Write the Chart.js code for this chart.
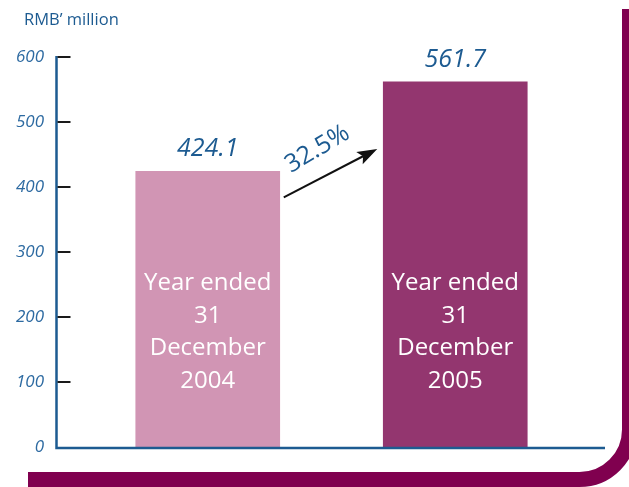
<!DOCTYPE html>
<html>
<head>
<meta charset="utf-8">
<script src="https://cdn.jsdelivr.net/npm/chart.js@4.4.0/dist/chart.umd.min.js"></script>
<style>
  html, body { margin: 0; padding: 0; background: #ffffff; }
  canvas { display: block; }
</style>
</head>
<body>
<canvas id="c" width="629" height="487"></canvas>
<script>
// ---- data ----
const categories = ["Year ended\n31\nDecember\n2004", "Year ended\n31\nDecember\n2005"];
const revenue = [424.1, 561.7];
const valueLabels = ["424.1", "561.7"];
const growthLabel = "32.5%";
const unitLabel = "RMB\u2019 million";
const yTicks = [0, 100, 200, 300, 400, 500, 600];

const BLUE = "#1d5b91";
const TICK_BLUE = "#2d6aa1";
const FRAME = "#80004f";
const FONT = "'Open Sans', 'Noto Sans', sans-serif";

const decorPlugin = {
  id: "decor",
  beforeDraw(chart) {
    const ctx = chart.ctx;
    ctx.save();
    ctx.fillStyle = "#ffffff";
    ctx.fillRect(0, 0, chart.width, chart.height);
    // frame (right + bottom with rounded corner)
    ctx.strokeStyle = FRAME;
    ctx.lineWidth = 15;
    ctx.lineCap = "butt";
    ctx.beginPath();
    const cx = 629.5, by = 479.5, r = 50;
    ctx.moveTo(cx, 9);
    ctx.lineTo(cx, by - r);
    ctx.arcTo(cx, by, cx - r, by, r);
    ctx.lineTo(28, by);
    ctx.stroke();
    ctx.restore();
  },
  afterDatasetsDraw(chart) {
    const ctx = chart.ctx;
    const area = chart.chartArea;
    const ys = chart.scales.y;
    const meta = chart.getDatasetMeta(0);
    const axisX = area.left - 27.5;
    ctx.save();
    // axis lines
    ctx.strokeStyle = BLUE;
    ctx.lineWidth = 2.5;
    ctx.beginPath();
    ctx.moveTo(axisX, ys.getPixelForValue(600) - 1);
    ctx.lineTo(axisX, area.bottom + 1);
    ctx.lineTo(area.right + 26, area.bottom + 1);
    ctx.stroke();
    // tick marks (inside)
    ctx.strokeStyle = "#1a1a1a";
    ctx.lineWidth = 2;
    yTicks.forEach(v => {
      if (v === 0) return;
      const py = Math.round(ys.getPixelForValue(v));
      ctx.beginPath();
      ctx.moveTo(axisX + 1, py);
      ctx.lineTo(axisX + 14, py);
      ctx.stroke();
    });
    // unit label
    ctx.fillStyle = BLUE;
    ctx.font = "16.5px " + FONT;
    ctx.textAlign = "left";
    ctx.textBaseline = "middle";
    ctx.fillText(unitLabel, 24, 20);
    // values above bars and text inside bars
    meta.data.forEach((bar, i) => {
      ctx.fillStyle = BLUE;
      ctx.font = "italic 25px " + FONT;
      ctx.textAlign = "center";
      ctx.textBaseline = "middle";
      ctx.fillText(valueLabels[i], bar.x, bar.y - 22);
      ctx.fillStyle = "#ffffff";
      ctx.font = "24px " + FONT;
      const lines = categories[i].split("\n");
      const mid = area.bottom - 115;
      const lh = 32.5;
      lines.forEach((ln, k) => {
        ctx.fillText(ln, bar.x, mid + (k - (lines.length - 1) / 2) * lh);
      });
    });
    // growth arrow
    const b0 = meta.data[0], b1 = meta.data[1];
    const x0 = b0.x + b0.width / 2 + 4, y0 = b0.y + 26;
    const x1 = b1.x - b1.width / 2 - 6, y1 = b1.y + 67;
    const ang = Math.atan2(y1 - y0, x1 - x0);
    ctx.strokeStyle = "#111111";
    ctx.fillStyle = "#111111";
    ctx.lineWidth = 2;
    const hl = 20, hw = 7;
    const bx = x1 - hl * Math.cos(ang) * 0.8, byy = y1 - hl * Math.sin(ang) * 0.8;
    ctx.beginPath();
    ctx.moveTo(x0, y0);
    ctx.lineTo(bx, byy);
    ctx.stroke();
    ctx.beginPath();
    ctx.moveTo(x1, y1);
    ctx.lineTo(x1 - hl * Math.cos(ang) - hw * Math.sin(ang), y1 - hl * Math.sin(ang) + hw * Math.cos(ang));
    ctx.lineTo(bx, byy);
    ctx.lineTo(x1 - hl * Math.cos(ang) + hw * Math.sin(ang), y1 - hl * Math.sin(ang) - hw * Math.cos(ang));
    ctx.closePath();
    ctx.fill();
    // growth text
    ctx.save();
    ctx.translate((x0 + x1) / 2 - 13, (y0 + y1) / 2 - 24);
    ctx.rotate(ang - 0.06);
    ctx.fillStyle = BLUE;
    ctx.font = "25px " + FONT;
    ctx.textAlign = "center";
    ctx.textBaseline = "middle";
    ctx.fillText(growthLabel, 0, 0);
    ctx.restore();
    ctx.restore();
  }
};

new Chart(document.getElementById("c"), {
  type: "bar",
  data: {
    labels: categories,
    datasets: [{
      data: revenue,
      backgroundColor: ["#d195b4", "#93366f"],
      borderWidth: 0,
      barThickness: 144
    }]
  },
  options: {
    responsive: false,
    animation: false,
    devicePixelRatio: 1,
    layout: { padding: { top: 57, right: 50, left: 0, bottom: 40 } },
    plugins: { legend: { display: false }, tooltip: { enabled: false } },
    scales: {
      x: {
        display: false,
        offset: true,
        grid: { display: false, drawTicks: false },
        border: { display: false },
        ticks: { display: false }
      },
      y: {
        min: 0, max: 600,
        afterBuildTicks(s) { s.ticks = yTicks.map(v => ({ value: v })); },
        grid: { display: false, drawTicks: false },
        border: { display: false },
        ticks: {
          padding: 40,
          color: TICK_BLUE,
          font: { family: FONT, size: 17, style: "italic" }
        },
        afterFit(s) { s.width = 84; s.paddingTop = 0; s.paddingBottom = 0; }
      }
    }
  },
  plugins: [decorPlugin]
});
</script>
</body>
</html>
